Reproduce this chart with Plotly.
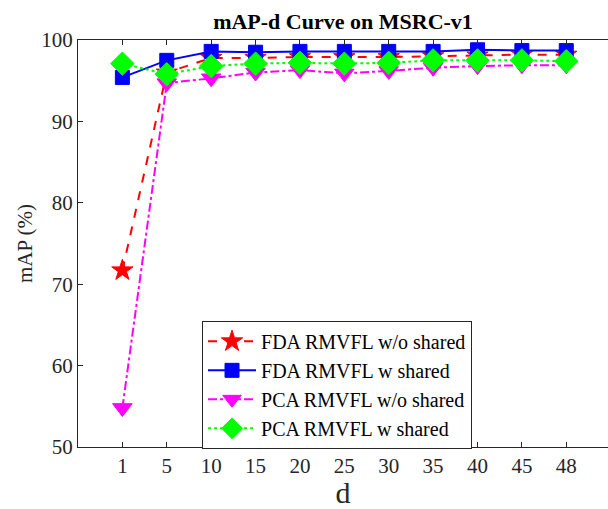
import plotly.graph_objects as go

d_labels = ["1", "5", "10", "15", "20", "25", "30", "35", "40", "45", "48"]
fda_wo = [71.7, 96.0, 97.8, 97.8, 97.9, 97.9, 97.9, 98.0, 98.1, 98.2, 98.2]
fda_w = [95.4, 97.5, 98.6, 98.5, 98.6, 98.6, 98.6, 98.6, 98.8, 98.7, 98.7]
pca_wo = [54.8, 94.7, 95.3, 96.0, 96.3, 95.9, 96.2, 96.6, 96.8, 96.9, 96.9]
pca_w = [97.1, 95.8, 96.8, 97.1, 97.2, 97.1, 97.2, 97.5, 97.5, 97.5, 97.4]

FONT = "Liberation Serif, Times New Roman, serif"
FS = 21

fig = go.Figure()
fig.add_trace(go.Scatter(x=d_labels, y=fda_wo, name="FDA RMVFL w/o shared", mode="lines+markers",
                         line=dict(color="#FF0000", width=2, dash="dash"),
                         marker=dict(symbol="star", size=16, color="#FF0000", line=dict(color="#FF0000", width=1))))
fig.add_trace(go.Scatter(x=d_labels, y=fda_w, name="FDA RMVFL w shared", mode="lines+markers",
                         line=dict(color="#0000FF", width=2, dash="solid"),
                         marker=dict(symbol="square", size=14, color="#0000FF", line=dict(color="#0000FF", width=1))))
fig.add_trace(go.Scatter(x=d_labels, y=pca_wo, name="PCA RMVFL w/o shared", mode="lines+markers",
                         line=dict(color="#FF00FF", width=2, dash="dashdot"),
                         marker=dict(symbol="triangle-down", size=17, color="#FF00FF", line=dict(color="#FF00FF", width=1))))
fig.add_trace(go.Scatter(x=d_labels, y=pca_w, name="PCA RMVFL w shared", mode="lines+markers",
                         line=dict(color="#00FF00", width=2, dash="dot"),
                         marker=dict(symbol="diamond", size=18, color="#00FF00", line=dict(color="#00FF00", width=1))))

fig.update_layout(
    width=608, height=509,
    margin=dict(l=78, r=0, t=40, b=62),
    paper_bgcolor="white", plot_bgcolor="white",
    font=dict(family=FONT, size=FS, color="#262626"),
    title=dict(text="<b>mAP-d Curve on MSRC-v1</b>", x=0.5, xref="paper", xanchor="center",
               y=1 - 21 / 509, yanchor="middle", font=dict(family=FONT, size=22, color="black")),
    legend=dict(x=0.234, y=0.31, xanchor="left", yanchor="top", bgcolor="white",
                bordercolor="#262626", borderwidth=1, font=dict(family=FONT, size=FS - 1, color="black"),
                tracegroupgap=0, itemwidth=48),
    showlegend=True,
)
fig.update_xaxes(type="category", range=[-1, 10.94], showgrid=False, zeroline=False,
                 showline=True, linecolor="#262626", linewidth=1, mirror="ticks",
                 ticks="inside", ticklen=5, tickcolor="#262626",
                 title=dict(text="d", font=dict(family=FONT, size=30, color="#262626"), standoff=2),
                 tickfont=dict(family=FONT, size=FS, color="#262626"))
fig.update_yaxes(range=[50, 100], dtick=10, showgrid=False, zeroline=False,
                 showline=True, linecolor="#262626", linewidth=1,
                 ticks="inside", ticklen=5, tickcolor="#262626",
                 title=dict(text="mAP (%)", font=dict(family=FONT, size=FS, color="#262626"), standoff=2),
                 tickfont=dict(family=FONT, size=FS, color="#262626"))

fig.write_html("out.html")
